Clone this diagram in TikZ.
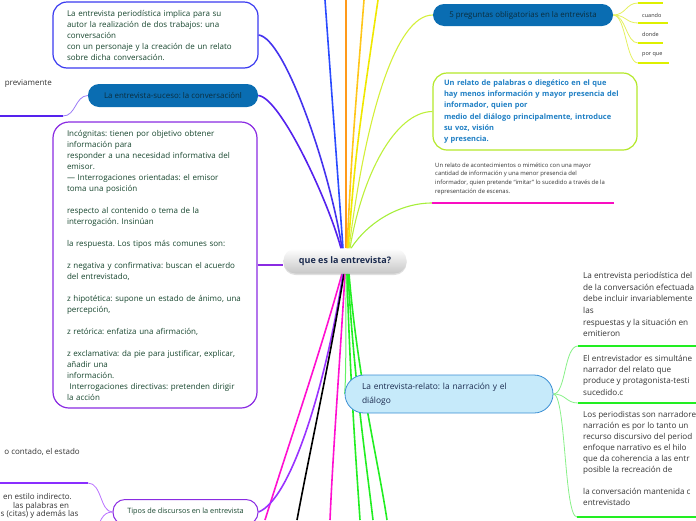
\documentclass[tikz,border=0pt]{standalone}
\usepackage{fontspec}
\setmainfont{Open Sans}
\frenchspacing
\usetikzlibrary{shadows,backgrounds}
\definecolor{dgreen}{HTML}{17462E}
\definecolor{boxblue}{HTML}{3A3AF0}
\definecolor{boxpurple}{HTML}{8A2BE2}
\definecolor{sucblue}{HTML}{0A6DB2}
\definecolor{suctext}{HTML}{0B2E3E}
\definecolor{navy}{HTML}{1A2A4E}
\definecolor{relfill}{HTML}{C6EAFA}
\definecolor{reldraw}{HTML}{3B8FD4}
\definecolor{ygreen}{HTML}{B4E82A}
\definecolor{bluetext}{HTML}{1F7FC4}
\definecolor{graytext}{HTML}{333333}
\definecolor{cBlue}{HTML}{2A4BFF}
\definecolor{cOrange}{HTML}{FF9A1A}
\definecolor{cGold}{HTML}{FFC61A}
\definecolor{cYellow}{HTML}{F0E800}
\definecolor{cLime1}{HTML}{D4EF3A}
\definecolor{cLime2}{HTML}{BDF03A}
\definecolor{cLime3}{HTML}{A6EE3A}
\definecolor{cInd1}{HTML}{4433EE}
\definecolor{cInd2}{HTML}{5522EE}
\definecolor{cMag}{HTML}{FF10D0}
\definecolor{cPurp}{HTML}{9933FF}
\definecolor{cGreen}{HTML}{22EE22}
\definecolor{lgreen}{HTML}{88F088}
\definecolor{lyellow}{HTML}{E4F060}
\definecolor{uyellow}{HTML}{DDF000}
\tikzset{
  conn/.style={line width=1.6pt},
  thinconn/.style={line width=0.8pt},
  uline/.style={line width=1.6pt},
  boxnode/.style={fill=white, line width=1.2pt, align=left, inner ysep=0pt},
  plaintxt/.style={inner sep=0pt, align=left, text=graytext},
}
\begin{document}
\begin{tikzpicture}[x=1pt,y=-1pt]
\useasboundingbox (0,0) rectangle (696,520);

% ---------- nodes ----------
\node[boxnode, draw=boxblue, rounded corners=14pt, minimum width=205pt, minimum height=66pt,
      text width=177pt, inner xsep=14pt, text=dgreen, font=\fontsize{8}{11}\selectfont] (tb) at (155.5,35)
  {La entrevista periodística implica para su\\autor la realización de dos trabajos: una\\conversación\\con un personaje y la creación de un relato\\sobre dicha conversación.};

\node[fill=sucblue, rounded corners=11pt, minimum width=170pt, minimum height=23pt, inner sep=0pt,
      text=suctext, font=\fontsize{7.9}{9}\selectfont] (su) at (173,95.5) {La entrevista-suceso: la conversaciónl};

\node[boxnode, draw=boxpurple, rounded corners=16pt, minimum width=204pt, minimum height=286pt,
      text width=176pt, inner xsep=14pt, text=dgreen, font=\fontsize{8}{11}\selectfont] (ib) at (155,265)
  {Incógnitas: tienen por objetivo obtener\\información para\\responder a una necesidad informativa del\\emisor.\\— Interrogaciones orientadas: el emisor\\toma una posición\\\mbox{}\\respecto al contenido o tema de la\\interrogación. Insinúan\\\mbox{}\\la respuesta. Los tipos más comunes son:\\\mbox{}\\z negativa y confirmativa: buscan el acuerdo\\del entrevistado,\\\mbox{}\\z hipotética: supone un estado de ánimo, una\\percepción,\\\mbox{}\\z retórica: enfatiza una afirmación,\\\mbox{}\\z exclamativa: da pie para justificar, explicar,\\añadir una\\información.\\\ Interrogaciones directivas: pretenden dirigir\\la acción};

\node[fill=sucblue, rounded corners=11pt, minimum width=180pt, minimum height=22pt, inner sep=0pt,
      text=suctext, font=\fontsize{7.9}{9}\selectfont] (p5) at (523,15) {5 preguntas obligatorias en la entrevista};

\node[boxnode, draw=ygreen, rounded corners=14pt, minimum width=204pt, minimum height=77pt,
      text width=182pt, inner xsep=11pt, text=bluetext, font=\bfseries\fontsize{7.45}{11.2}\selectfont] (rb) at (535,111.5)
  {Un relato de palabras o diegético en el que\\hay menos información y mayor presencia del\\informador, quien por\\medio del diálogo principalmente, introduce\\su voz, visión\\y presencia.};

\node[plaintxt, anchor=north west, font=\fontsize{5.9}{8.6}\selectfont] (mt) at (435,162.5)
  {Un relato de acontecimientos o mimético con una mayor\\cantidad de información y una menor presencia del\\informador, quien pretende “imitar” lo sucedido a través de la\\representación de escenas.};

\node[rounded corners=12pt, minimum width=123pt, minimum height=25pt, inner sep=0pt,
      top color=white, bottom color=black!22, text=navy,
      drop shadow={shadow xshift=0pt, shadow yshift=-1.5pt, opacity=0.25},
      font=\bfseries\fontsize{9}{11}\selectfont] (c) at (345,261) {que es la entrevista?};

\node[fill=relfill, draw=reldraw, line width=0.8pt, rounded corners=19pt, minimum width=208pt, minimum height=38pt,
      text width=174pt, inner xsep=17pt, inner ysep=0pt, align=left, text=navy,
      font=\fontsize{8.4}{14}\selectfont] (rel) at (449,394)
  {La entrevista-relato: la narración y el\\diálogo};

\node[boxnode, draw=boxpurple, line width=1pt, rounded corners=12pt, minimum width=145pt, minimum height=25pt,
      inner xsep=0pt, align=center, text=dgreen, font=\fontsize{7.3}{9}\selectfont] (tp) at (185.5,512)
  {Tipos de discursos en la entrevista};

% right items of the relato node
\node[plaintxt, anchor=north west, font=\fontsize{8.2}{11.7}\selectfont] (r1) at (583,272)
  {La entrevista periodística del\\de la conversación efectuada\\debe incluir invariablemente\\las\\respuestas y la situación en\\emitieron};
\node[plaintxt, anchor=north west, font=\fontsize{8.1}{11.2}\selectfont] (r2) at (583,355)
  {El entrevistador es simultáne\\narrador del relato que\\produce y protagonista-testi\\sucedido.c};
\node[plaintxt, anchor=north west, font=\fontsize{8.1}{11}\selectfont] (r3) at (583,411)
  {Los periodistas son narradore\\narración es por lo tanto un\\recurso discursivo del period\\enfoque narrativo es el hilo\\que da coherencia a las entr\\posible la recreación de\\\mbox{}\\la conversación mantenida c\\entrevistado};

% five questions
\node[plaintxt, anchor=west, font=\fontsize{5.5}{7}\selectfont] (q1) at (642,15) {cuando};
\node[plaintxt, anchor=west, font=\fontsize{5.5}{7}\selectfont] (q2) at (642,34.5) {donde};
\node[plaintxt, anchor=west, font=\fontsize{5.5}{7}\selectfont] (q3) at (642,55) {por que};

% left cut texts
\node[plaintxt, anchor=east, font=\fontsize{8}{11}\selectfont] (lt1) at (52,84) {previamente};
\node[plaintxt, anchor=east, font=\fontsize{8}{11}\selectfont] (lt2) at (80,452) {o contado, el estado};
\node[plaintxt, anchor=west, font=\fontsize{8}{11}\selectfont] (lt3) at (3,496.5) {en estilo indirecto.};
\node[plaintxt, anchor=west, font=\fontsize{8}{11}\selectfont] (lt4) at (13,506.5) {las palabras en};
\node[plaintxt, anchor=west, font=\fontsize{8}{11}\selectfont] (lt5) at (0.5,514) {s (citas) y además las};

% free ends
\coordinate (tBlue) at (325,0);
\coordinate (tOr) at (346,0);
\coordinate (tGold) at (364,0);
\coordinate (tYel) at (378,0);
\coordinate (bMag1) at (265,520);
\coordinate (bBlk) at (297,520);
\coordinate (bMag2) at (330,520);
\coordinate (bG1) at (360,520);
\coordinate (bG2) at (373,520);
\coordinate (bG3) at (387,520);
\coordinate (u5a) at (638,3);   \coordinate (u5aE) at (663,3);
\coordinate (u5b) at (638,23);  \coordinate (u5bE) at (668,23);
\coordinate (u5c) at (638,43);  \coordinate (u5cE) at (663,43);
\coordinate (u5d) at (638,63);  \coordinate (u5dE) at (669,63);
\coordinate (um) at (432,203);  \coordinate (umE) at (614,203);
\coordinate (ur1) at (578,346); \coordinate (ur1E) at (700,346);
\coordinate (ur2) at (578,403); \coordinate (ur2E) at (700,403);
\coordinate (ur3) at (577,517); \coordinate (ur3E) at (700,517);
\coordinate (ul1) at (63,116);  \coordinate (ul1E) at (-4,116);
\coordinate (ul2) at (88,483);  \coordinate (ul2E) at (-4,483);
\coordinate (ul3) at (96,532);

% ---------- connectors ----------
\begin{scope}[on background layer]
\clip (0,0) rectangle (696,520);
% top fan
\draw[conn, cBlue] ([xshift=-2pt]c.north) -- (tBlue);
\draw[conn, cOrange] ([xshift=1pt]c.north) -- (tOr);
\draw[conn, cGold] ([xshift=2pt]c.north) .. controls (352,150) .. (tGold);
\draw[conn, cYellow] ([xshift=3pt]c.north) .. controls (356,150) .. (tYel);
\draw[cLime1, line width=1.1pt] ([xshift=4pt]c.north) .. controls (365,120) and (395,15) .. (p5.west);
\draw[cLime2, line width=1.1pt] ([xshift=5pt]c.north) .. controls (362,175) and (395,112) .. (rb.west);
\draw[cLime3, line width=1.1pt] ([xshift=6pt]c.north) .. controls (368,222) and (400,203) .. (um);
\draw[conn, cInd1] ([xshift=-3pt]c.north) .. controls (330,170) and (285,38) .. (tb.east);
\draw[conn, cInd2] ([xshift=-4pt]c.north) .. controls (328,200) and (280,97) .. (su.east);
\draw[conn, boxpurple] (ib.east) -- (c.west |- ib.east);
% left of suceso
\draw[thinconn, cInd2!60] (su.west) .. controls (75,96) and (76,116) .. (ul1);
\draw[uline, cInd2] (ul1) -- (ul1E);
% bottom fan
\draw[conn, cMag] ([xshift=-3pt]c.south) .. controls (318,360) and (290,440) .. (bMag1);
\draw[conn, cPurp] ([xshift=-2pt]c.south) .. controls (325,390) and (290,500) .. (tp.east);
\draw[conn, black] ([xshift=-1pt]c.south) .. controls (330,360) and (310,450) .. (bBlk);
\draw[conn, cMag] (c.south) .. controls (340,360) and (333,450) .. (bMag2);
\draw[cGreen!70, line width=1pt] ([xshift=1pt]c.south) .. controls (346,330) and (346,380) .. (rel.west);
\draw[conn, cGreen] ([xshift=2pt]c.south) .. controls (350,380) and (356,460) .. (bG1);
\draw[conn, cGreen] ([xshift=3pt]c.south) .. controls (354,380) and (366,460) .. (bG2);
\draw[conn, cGreen] ([xshift=4pt]c.south) .. controls (358,380) and (378,460) .. (bG3);
% tipos
\draw[thinconn, cPurp!70] (tp.west) .. controls (100,512) and (102,483) .. (ul2);
\draw[uline, cPurp!90!blue] (ul2) -- (ul2E);
\draw[thinconn, cPurp!70] (tp.west) .. controls (102,512) and (100,522) .. (ul3);
% five questions
\draw[thinconn, lyellow] (p5.east) .. controls (626,15) and (626,3) .. (u5a);
\draw[thinconn, lyellow] (p5.east) .. controls (626,15) and (626,23) .. (u5b);
\draw[thinconn, lyellow] (p5.east) .. controls (626,15) and (626,43) .. (u5c);
\draw[thinconn, lyellow] (p5.east) .. controls (626,15) and (626,63) .. (u5d);
% magenta underline
\draw[uline, cMag!90!purple] (um) -- (umE);
% relato children
\draw[thinconn, lgreen] (rel.east) .. controls (566,394) and (564,346) .. (ur1);
\draw[thinconn, lgreen] (rel.east) .. controls (566,394) and (566,403) .. (ur2);
\draw[thinconn, lgreen] (rel.east) .. controls (566,394) and (564,517) .. (ur3);
\draw[uline, cGreen] (ur1) -- (ur1E);
\draw[uline, cGreen] (ur2) -- (ur2E);
\draw[uline, cGreen] (ur3) -- (ur3E);
\draw[uline, uyellow] (u5a) -- (u5aE);
\draw[uline, uyellow] (u5b) -- (u5bE);
\draw[uline, uyellow] (u5c) -- (u5cE);
\draw[uline, uyellow] (u5d) -- (u5dE);
\end{scope}
\end{tikzpicture}
\end{document}
